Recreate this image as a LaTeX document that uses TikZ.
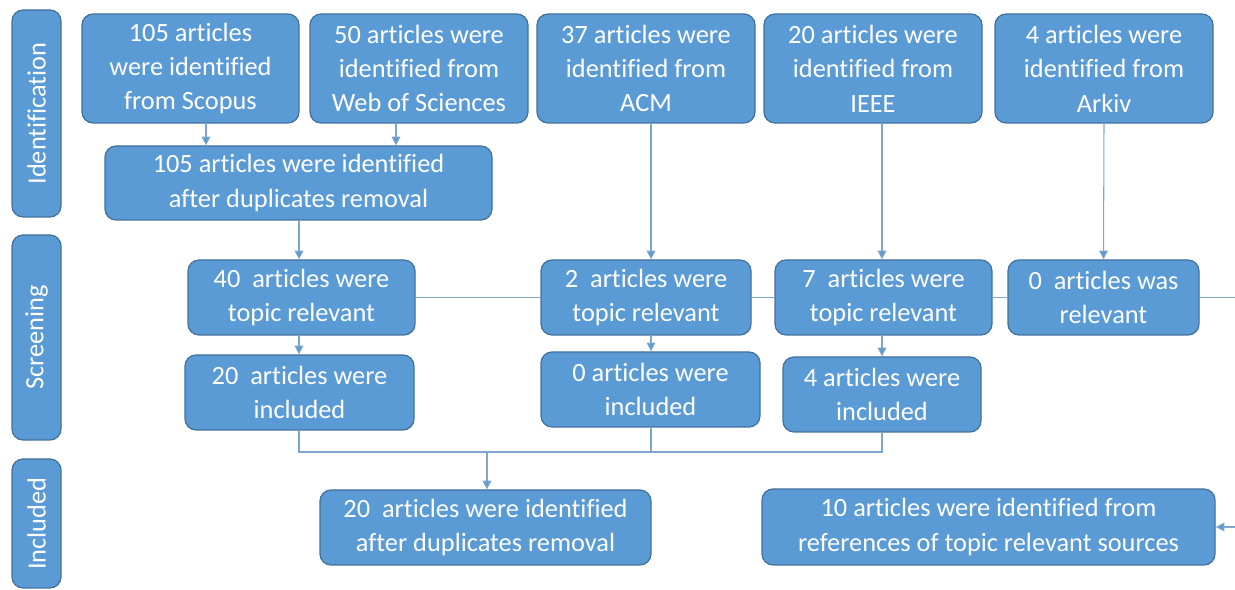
\documentclass[tikz,border=0pt]{standalone}
\usepackage{fontspec}
\setmainfont{Carlito}[Ligatures=NoCommon]
\usetikzlibrary{arrows.meta}
\definecolor{boxc}{HTML}{5B9BD5}
\definecolor{bordc}{HTML}{41719C}
\definecolor{linec}{HTML}{7FA6CA}
\newcommand\mkbox[6]{\node[box, minimum width=#4*0.02cm, minimum height=#5*0.02cm] (#1) at (#2,#3) {#6};}
\begin{document}
\begin{tikzpicture}[x=0.02cm,y=-0.02cm,
  box/.style={draw=bordc, fill=boxc, rounded corners=0.22cm, text=white, align=center,
    font=\fontsize{15}{19.6}\selectfont, inner sep=0pt, line width=0.7pt},
  side/.style={box, rotate=90},
  conn/.style={draw=linec, line width=0.6pt},
  arr/.style={conn, -{Triangle[length=5pt,width=5pt,fill=boxc]}}]
\useasboundingbox (0,0) rectangle (1235,590);
% side labels
\node[side, minimum width=207*0.02cm, minimum height=49*0.02cm] (idl) at (36.5,113.5) {Identification};
\node[side, minimum width=205*0.02cm, minimum height=49*0.02cm] (scl) at (36.5,337.5) {Screening};
\node[side, minimum width=129*0.02cm, minimum height=49*0.02cm] (inl) at (36.5,523.5) {Included};
% identification row
\mkbox{scopus}{190.5}{68.5}{217}{109}{105 articles\\were identified\\from Scopus}
\mkbox{wos}{419}{68.5}{218}{109}{50 articles were\\identified from\\Web of Sciences}
\mkbox{acm}{646}{68.5}{218}{109}{37 articles were\\identified from\\ACM}
\mkbox{ieee}{873}{68.5}{218}{109}{20 articles were\\identified from\\IEEE}
\mkbox{arkiv}{1104}{68.5}{218}{109}{4 articles were\\identified from\\Arkiv}
\mkbox{dup}{298.5}{183}{387}{74}{105 articles were identified\\after duplicates removal}
% screening
\mkbox{r40}{301.5}{297.5}{227}{75}{40\ \ articles were\\topic relevant}
\mkbox{i20}{299.5}{392.5}{229}{75}{20\ \ articles were\\included}
\mkbox{r2}{646}{297.5}{210}{75}{2\ \ articles were\\topic relevant}
\mkbox{i0}{650.5}{389.5}{219}{75}{0 articles were\\included}
\mkbox{r7}{883.5}{297.5}{217}{75}{7\ \ articles were\\topic relevant}
\mkbox{i4}{882}{394.5}{198}{75}{4 articles were\\included}
\mkbox{r0}{1103.5}{297.5}{191}{75}{0\ \ articles was\\relevant}
% included
\mkbox{fin}{485.5}{527.5}{331}{75}{20\ \ articles were identified\\after duplicates removal}
\mkbox{ref}{988.5}{527}{453}{76}{10 articles were identified from\\references of topic relevant sources}
% connectors
\draw[arr] (206,0 |- scopus.south) -- (206,0 |- dup.north);
\draw[arr] (396,0 |- wos.south) -- (396,0 |- dup.north);
\draw[arr] (299,0 |- dup.south) -- (299,0 |- r40.north);
\draw[arr] (299,0 |- r40.south) -- (299,0 |- i20.north);
\draw[arr] (651,0 |- acm.south) -- (651,0 |- r2.north);
\draw[arr] (651,0 |- r2.south) -- (651,0 |- i0.north);
\draw[arr] (882,0 |- ieee.south) -- (882,0 |- r7.north);
\draw[arr] (882,0 |- r7.south) -- (882,0 |- i4.north);
\draw[arr] (arkiv.south) -- (r0.north);
\draw[conn] (r40.east) -- (r2.west);
\draw[conn] (r2.east) -- (r7.west);
\draw[conn] (r7.east) -- (r0.west);
\draw[arr] (r0.east) -- (1250,297.5) |- (ref.east);
\coordinate (j) at (487,452);
\draw[conn] (299,0 |- i20.south) |- (882,452) -- (882,0 |- i4.south);
\draw[conn] (651,0 |- i0.south) -- (651,452);
\draw[arr] (j) -- (j |- fin.north);
\end{tikzpicture}
\end{document}
